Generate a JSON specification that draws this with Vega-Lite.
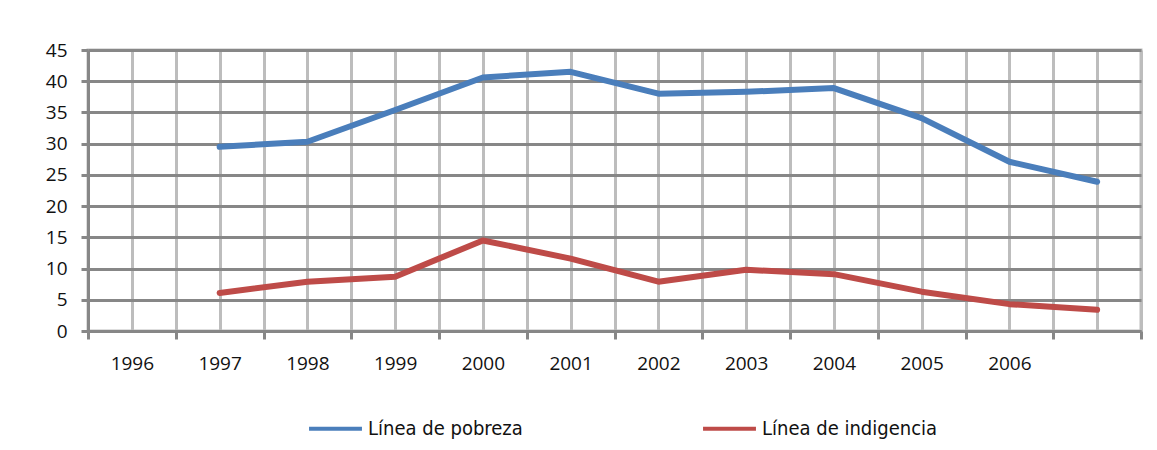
{
  "$schema": "https://vega.github.io/schema/vega-lite/v6.json",
  "autosize": "none",
  "width": 1053,
  "height": 281,
  "padding": {"left": 88, "top": 50, "right": 16, "bottom": 119},
  "background": "white",
  "data": {
    "values": [
      {"year": 1997, "serie": "Línea de pobreza", "valor": 29.5},
      {"year": 1998, "serie": "Línea de pobreza", "valor": 30.3},
      {"year": 1999, "serie": "Línea de pobreza", "valor": 35.4},
      {"year": 2000, "serie": "Línea de pobreza", "valor": 40.6},
      {"year": 2001, "serie": "Línea de pobreza", "valor": 41.5},
      {"year": 2002, "serie": "Línea de pobreza", "valor": 38.0},
      {"year": 2003, "serie": "Línea de pobreza", "valor": 38.3},
      {"year": 2004, "serie": "Línea de pobreza", "valor": 38.9},
      {"year": 2005, "serie": "Línea de pobreza", "valor": 34.1},
      {"year": 2006, "serie": "Línea de pobreza", "valor": 27.1},
      {"year": 2007, "serie": "Línea de pobreza", "valor": 23.9},
      {"year": 1997, "serie": "Línea de indigencia", "valor": 6.1},
      {"year": 1998, "serie": "Línea de indigencia", "valor": 7.9},
      {"year": 1999, "serie": "Línea de indigencia", "valor": 8.7},
      {"year": 2000, "serie": "Línea de indigencia", "valor": 14.5},
      {"year": 2001, "serie": "Línea de indigencia", "valor": 11.6},
      {"year": 2002, "serie": "Línea de indigencia", "valor": 7.9},
      {"year": 2003, "serie": "Línea de indigencia", "valor": 9.8},
      {"year": 2004, "serie": "Línea de indigencia", "valor": 9.1},
      {"year": 2005, "serie": "Línea de indigencia", "valor": 6.3},
      {"year": 2006, "serie": "Línea de indigencia", "valor": 4.3},
      {"year": 2007, "serie": "Línea de indigencia", "valor": 3.4}
    ]
  },
  "mark": {"type": "line", "strokeWidth": 6, "strokeJoin": "round", "strokeCap": "round"},
  "encoding": {
    "x": {
      "field": "year",
      "type": "quantitative",
      "scale": {"domain": [1995.5, 2007.5], "nice": false, "zero": false},
      "axis": {
        "title": null,
        "values": [1995.5, 1996, 1996.5, 1997, 1997.5, 1998, 1998.5, 1999, 1999.5, 2000, 2000.5, 2001, 2001.5, 2002, 2002.5, 2003, 2003.5, 2004, 2004.5, 2005, 2005.5, 2006, 2006.5, 2007, 2007.5],
        "labelExpr": "(datum.value % 1 == 0 && datum.value <= 2006) ? format(datum.value, 'd') : ''",
        "grid": true,
        "gridColor": "#bdbdbd",
        "gridWidth": 3,
        "tickSize": 8,
        "tickWidth": 3,
        "tickColor": "#878787",
        "tickOpacity": {"condition": {"test": "datum.value % 1 == 0", "value": 0}, "value": 1},
        "domainColor": "#878787",
        "domainWidth": 3,
        "labelFont": "Open Sans",
        "labelFontSize": 19,
        "labelColor": "#111111",
        "labelPadding": 15,
        "labelFlush": false,
        "labelOverlap": false
      }
    },
    "y": {
      "field": "valor",
      "type": "quantitative",
      "scale": {"domain": [0, 45], "nice": false},
      "axis": {
        "title": null,
        "values": [0, 5, 10, 15, 20, 25, 30, 35, 40, 45],
        "grid": true,
        "gridColor": "#878787",
        "gridWidth": 3,
        "tickSize": 7,
        "tickWidth": 3,
        "tickColor": "#878787",
        "domainColor": "#878787",
        "domainWidth": 3,
        "labelFont": "Open Sans",
        "labelFontSize": 19,
        "labelColor": "#111111",
        "labelPadding": 14,
        "labelFlush": false,
        "labelOverlap": false
      }
    },
    "color": {
      "field": "serie",
      "type": "nominal",
      "scale": {"domain": ["Línea de pobreza", "Línea de indigencia"], "range": ["#4a7ebb", "#be4b48"]},
      "legend": {
        "title": null,
        "orient": "none",
        "direction": "horizontal",
        "legendX": 219,
        "legendY": 350,
        "symbolType": "stroke",
        "symbolSize": 2800,
        "symbolStrokeWidth": 4,
        "labelFont": "DejaVu Sans Condensed, Roboto, sans-serif",
        "labelFontSize": 20,
        "labelColor": "#111111",
        "labelOffset": 4,
        "columnPadding": 172,
        "labelLimit": 400
      }
    }
  },
  "config": {
    "view": {"stroke": "#bdbdbd", "strokeWidth": 3}
  }
}
